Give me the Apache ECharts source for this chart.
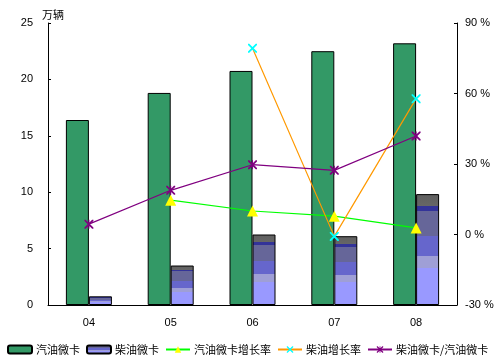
<!DOCTYPE html>
<html><head><meta charset="utf-8">
<script src="https://cdn.jsdelivr.net/npm/echarts@6/dist/echarts.min.js"></script>
<style>html,body{margin:0;padding:0;background:#fff}#c{width:500px;height:364px}</style>
</head><body><div id="c"></div>
<script>
var categories = ['04', '05', '06', '07', '08'];
var gasolineTrucks = [16.4, 18.8, 20.75, 22.5, 23.2];
var dieselTrucks = [0.77, 3.5, 6.25, 6.1, 9.83];
var gasolineGrowth = [null, 14.6, 10.0, 7.8, 2.8];
var dieselGrowth = [null, null, 79.3, -0.8, 57.8];
var dieselGasRatio = [4.4, 18.8, 29.7, 27.3, 41.9];
var leftTicks = {min: 0, max: 25, interval: 5};
var rightTicks = {min: -30, max: 90, interval: 30};
var seriesNames = ['汽油微卡', '柴油微卡', '汽油微卡增长率', '柴油增长率', '柴油微卡/汽油微卡'];

var xPath = 'path://M0,0 L1.4,0 L10,8.6 L10,10 L8.6,10 L0,1.4 Z M8.6,0 L10,0 L10,1.4 L1.4,10 L0,10 L0,8.6 Z';
var starPath = 'path://M0,0 L1.4,0 L10,8.6 L10,10 L8.6,10 L0,1.4 Z M8.6,0 L10,0 L10,1.4 L1.4,10 L0,10 L0,8.6 Z M4.4,0 L5.6,0 L5.6,10 L4.4,10 Z';

var dieselGradient = new echarts.graphic.LinearGradient(0, 0, 0, 1, [
  {offset: 0, color: '#5f5f5f'}, {offset: 0.11, color: '#666666'},
  {offset: 0.11, color: '#333399'}, {offset: 0.15, color: '#333399'},
  {offset: 0.15, color: '#666699'}, {offset: 0.38, color: '#666699'},
  {offset: 0.38, color: '#6666cc'}, {offset: 0.56, color: '#6666cc'},
  {offset: 0.56, color: '#9f9fd6'}, {offset: 0.67, color: '#9f9fd6'},
  {offset: 0.67, color: '#9999ff'}, {offset: 1, color: '#9999ff'}
]);

var font = '"Liberation Sans", Arial, sans-serif';
var chart = echarts.init(document.getElementById('c'), null, {renderer: 'canvas'});
chart.setOption({
  animation: false,
  backgroundColor: '#fff',
  textStyle: {fontFamily: font},
  grid: {left: 48, right: 43, top: 23, bottom: 59},
  legend: {
    left: 7, top: 344, padding: 0, itemWidth: 24, itemHeight: 8, itemGap: 6,
    textStyle: {fontSize: 11, color: '#000', fontFamily: '"Noto Sans CJK SC", sans-serif', padding: [0, 0, 0, -1]},
    data: seriesNames
  },
  xAxis: {
    type: 'category', data: categories,
    axisLine: {lineStyle: {color: '#000', width: 1}},
    axisTick: {inside: true, length: 3, lineStyle: {color: '#000'}},
    axisLabel: {color: '#000', fontSize: 11, margin: 12}
  },
  yAxis: [{
    type: 'value', min: leftTicks.min, max: leftTicks.max, interval: leftTicks.interval,
    name: '万辆', nameLocation: 'end', nameGap: 3,
    nameTextStyle: {color: '#000', fontSize: 11, align: 'left', padding: [0, 0, 0, -6], fontFamily: '"Noto Sans CJK SC", sans-serif'},
    axisLine: {show: true, lineStyle: {color: '#000', width: 1}},
    axisTick: {show: true, inside: true, length: 3, lineStyle: {color: '#000'}},
    axisLabel: {color: '#000', fontSize: 11, margin: 15},
    splitLine: {show: false}
  }, {
    type: 'value', min: rightTicks.min, max: rightTicks.max, interval: rightTicks.interval,
    position: 'right',
    axisLine: {show: true, lineStyle: {color: '#000', width: 1}},
    axisTick: {show: true, inside: true, length: 3, lineStyle: {color: '#000'}},
    axisLabel: {color: '#000', fontSize: 11, margin: 8, formatter: '{value} %'},
    splitLine: {show: false}
  }],
  series: [{
    name: seriesNames[0], type: 'bar', data: gasolineTrucks, barWidth: 23, barGap: '0%',
    itemStyle: {color: '#339966', borderColor: '#000', borderWidth: 1}
  }, {
    name: seriesNames[1], type: 'bar', data: dieselTrucks, barWidth: 23, barGap: '0%',
    itemStyle: {color: dieselGradient, borderColor: '#000', borderWidth: 1}
  }, {
    name: seriesNames[2], type: 'line', yAxisIndex: 1, data: gasolineGrowth,
    symbol: 'triangle', symbolSize: 11, showAllSymbol: true,
    lineStyle: {color: '#00ff00', width: 1.2},
    itemStyle: {color: '#ffff00', borderWidth: 0}
  }, {
    name: seriesNames[3], type: 'line', yAxisIndex: 1, data: dieselGrowth,
    symbol: xPath, symbolSize: 9,
    lineStyle: {color: '#ff9900', width: 1.2},
    itemStyle: {color: '#00ffff', borderWidth: 0}
  }, {
    name: seriesNames[4], type: 'line', yAxisIndex: 1, data: dieselGasRatio,
    symbol: starPath, symbolSize: 9,
    lineStyle: {color: '#800080', width: 1.2},
    itemStyle: {color: '#800080', borderWidth: 0}
  }]
});
</script></body></html>
